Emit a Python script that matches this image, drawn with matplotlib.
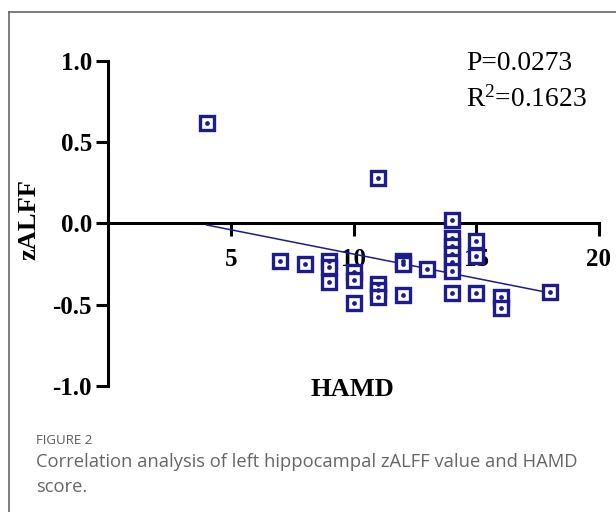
import numpy as np
import matplotlib
matplotlib.use("Agg")
import matplotlib.pyplot as plt
from matplotlib.lines import Line2D

# HAMD score vs left hippocampal zALFF
hamd = [4, 11, 7, 8,
        9, 9, 9,
        10, 10, 10,
        11, 11, 11,
        12, 12, 12,
        13,
        14, 14, 14, 14, 14, 14, 14,
        15, 15, 15,
        16, 16,
        18]
zalff = [0.62, 0.28, -0.23, -0.25,
         -0.23, -0.27, -0.36,
         -0.30, -0.35, -0.49,
         -0.37, -0.41, -0.45,
         -0.23, -0.25, -0.44,
         -0.28,
         0.02, -0.09, -0.14, -0.19, -0.24, -0.29, -0.43,
         -0.11, -0.20, -0.43,
         -0.45, -0.52,
         -0.42]

x_ticks = [5, 10, 15, 20]
y_ticks = [-1.0, -0.5, 0.0, 0.5, 1.0]
y_ticklabels = ["-1.0", "-0.5", "0.0", "0.5", "1.0"]
stats_text = ["P=0.0273", "R$^{2}$=0.1623"]
caption_head = "FIGURE 2"
caption_body = "Correlation analysis of left hippocampal zALFF value and HAMD\nscore."

navy = "#1c1c8c"
serif = ["Liberation Serif", "DejaVu Serif"]
plt.rcParams["mathtext.fontset"] = "custom"
plt.rcParams["mathtext.rm"] = "Liberation Serif"
plt.rcParams["mathtext.it"] = "Liberation Serif"
plt.rcParams["mathtext.default"] = "regular"

fig = plt.figure(figsize=(6.16, 5.12), dpi=100)
ax = fig.add_axes([0.1761, 0.2461, 0.7963, 0.6348])
ax.set_xlim(0, 20)
ax.set_ylim(-1, 1)

# regression line over data range
coef = np.polyfit(hamd, zalff, 1)
xs = np.array([min(hamd), max(hamd)])
ax.plot(xs, np.polyval(coef, xs), color=navy, lw=1.1, zorder=2)

ax.plot(hamd, zalff, "s", ms=9.8, mfc="white", mec=navy, mew=2.4,
        clip_on=False, zorder=3)
ax.plot(hamd, zalff, "o", ms=3.4, mew=0, color=navy, clip_on=False, zorder=4)

for s in ["top", "right"]:
    ax.spines[s].set_visible(False)
ax.spines["left"].set_position(("data", 0))
ax.spines["bottom"].set_position(("data", 0))
ax.spines["left"].set_linewidth(2.2)
ax.spines["bottom"].set_linewidth(2.2)
ax.spines["left"].set_zorder(1)
ax.spines["bottom"].set_zorder(1)

ax.set_xticks(x_ticks)
ax.set_xticklabels([str(t) for t in x_ticks])
ax.set_yticks(y_ticks)
ax.set_yticklabels(y_ticklabels)
ax.tick_params(axis="both", direction="out", length=9, width=2.2, color="black")
ax.tick_params(axis="x", pad=9)
ax.tick_params(axis="y", pad=3)
for lab in ax.get_xticklabels() + ax.get_yticklabels():
    lab.set_fontfamily(serif)
    lab.set_fontweight("bold")
    lab.set_fontsize(18)

fig.text(352 / 616, 1 - 390 / 512, "HAMD", family=serif, weight="bold",
         fontsize=19, ha="center", va="center")
fig.text(29 / 616, 1 - 220 / 512, "zALFF", family=serif, weight="bold",
         fontsize=19, ha="center", va="center", rotation=90)

fig.text(466 / 616, 1 - 63 / 512, stats_text[0], family=serif, fontsize=19.8,
         ha="left", va="center")
fig.text(466 / 616, 1 - 99 / 512, stats_text[1], family=serif, fontsize=19.8,
         ha="left", va="center")

fig.text(36 / 616, 1 - 440 / 512, caption_head, family="Open Sans",
         fontsize=9.5, color="#5a5a5a", ha="left", va="center")
fig.text(36 / 616, 1 - 453 / 512, caption_body, family="Open Sans",
         fontsize=13.2, color="#666666", ha="left", va="top", linespacing=1.5)

# outer frame (top and left edges)
fig.add_artist(Line2D([9 / 616, 9 / 616], [0, 1 - 12 / 512],
                      transform=fig.transFigure, color="#666666", lw=1.2))
fig.add_artist(Line2D([9 / 616, 1], [1 - 12 / 512, 1 - 12 / 512],
                      transform=fig.transFigure, color="#666666", lw=1.2))

fig.savefig("out.png", dpi=100)
